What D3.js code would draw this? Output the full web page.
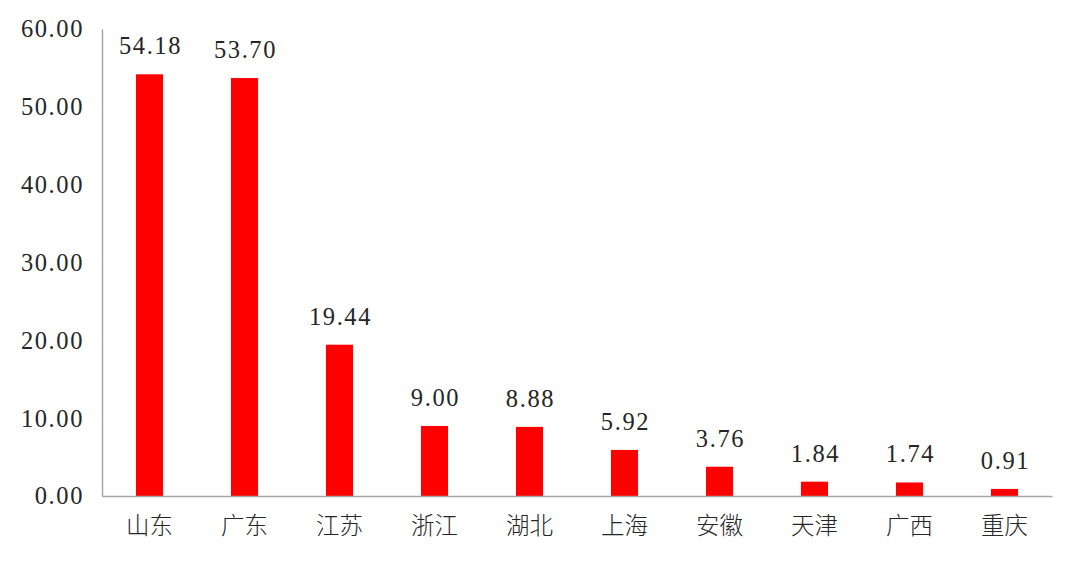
<!DOCTYPE html>
<html>
<head>
  <meta charset="UTF-8" />
  <script src="https://d3js.org/d3.v7.min.js"></script>
  <style>
    body { margin: 0; background: #fff; }
    text { font-family: "Liberation Serif", "Noto Sans CJK SC", serif; fill: #262626; }
  </style>
</head>
<body>
  <div id="chart"></div>
  <script>
    // data
    const provinces = ["山东", "广东", "江苏", "浙江", "湖北", "上海", "安徽", "天津", "广西", "重庆"];
    const values = [54.18, 53.70, 19.44, 9.00, 8.88, 5.92, 3.76, 1.84, 1.74, 0.91];
    const yTicks = [0, 10, 20, 30, 40, 50, 60];

    const width = 1080, height = 563;
    const margin = { top: 29, right: 28, bottom: 67, left: 102 };

    const svg = d3.select("#chart")
      .append("svg")
      .attr("width", width)
      .attr("height", height);

    const xScale = d3.scaleBand()
      .domain(provinces)
      .range([margin.left, width - margin.right])
      .paddingInner(0.715)
      .paddingOuter(0.3575);

    const yScale = d3.scaleLinear()
      .domain([0, 60])
      .range([height - margin.bottom, margin.top]);

    // y axis
    const yAxis = svg.append("g")
      .attr("transform", "translate(" + margin.left + ",0)")
      .call(d3.axisLeft(yScale).tickValues(yTicks).tickSize(0).tickPadding(18)
        .tickFormat(d => d3.format(".2f")(d)));
    yAxis.select(".domain").attr("stroke", "#a6a6a6").attr("stroke-width", 1.5);
    yAxis.selectAll("text")
      .style("font-size", "24.5px")
      .style("letter-spacing", "1.6px");

    // bars
    svg.selectAll("rect.bar")
      .data(values)
      .enter()
      .append("rect")
      .attr("class", "bar")
      .attr("fill", "#ff0000")
      .attr("x", (d, i) => xScale(provinces[i]))
      .attr("y", d => yScale(d))
      .attr("width", xScale.bandwidth())
      .attr("height", d => yScale(0) - yScale(d));

    // value labels
    svg.selectAll("text.val")
      .data(values)
      .enter()
      .append("text")
      .attr("class", "val")
      .attr("x", (d, i) => xScale(provinces[i]) + xScale.bandwidth() / 2 + 1)
      .attr("y", d => yScale(d) - 20)
      .attr("text-anchor", "middle")
      .style("font-size", "24.5px")
      .style("letter-spacing", "1.6px")
      .text(d => d3.format(".2f")(d));

    // x axis
    const xAxis = svg.append("g")
      .attr("transform", "translate(0," + yScale(0) + ")")
      .call(d3.axisBottom(xScale).tickSize(0).tickPadding(21));
    xAxis.select(".domain").attr("stroke", "#a6a6a6").attr("stroke-width", 1.5);
    xAxis.selectAll("text")
      .style("font-size", "23.5px")
      .style("font-weight", "300");
  </script>
</body>
</html>
